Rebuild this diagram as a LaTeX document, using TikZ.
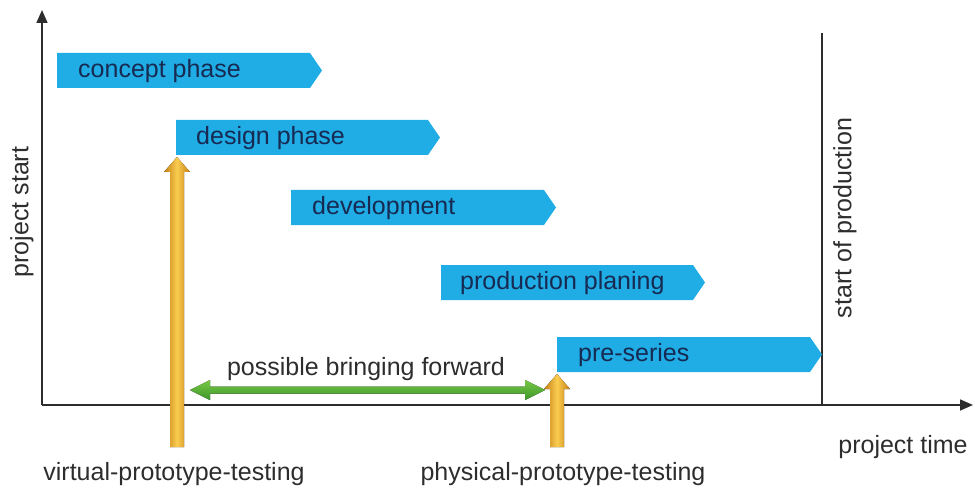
\documentclass[tikz,border=0pt]{standalone}
\usepackage{fontspec}
\setmainfont{Liberation Sans}
\usetikzlibrary{arrows.meta}
\definecolor{barblue}{RGB}{32,172,228}
\definecolor{bartxt}{RGB}{22,42,82}
\definecolor{axisgray}{RGB}{45,45,45}
\definecolor{goldA}{RGB}{196,128,20}
\definecolor{goldB}{RGB}{250,205,80}
\definecolor{greenA}{RGB}{120,200,70}
\definecolor{greenB}{RGB}{60,150,40}
\tikzset{
  bartext/.style={anchor=west, text=bartxt, font=\fontsize{25}{29}\selectfont, inner sep=0pt},
  lbl/.style={text=axisgray, font=\fontsize{25}{29}\selectfont, inner sep=0pt},
  axisline/.style={draw=axisgray, line width=1.6pt},
  goldfill/.style={left color=goldA, right color=goldA, middle color=goldB},
  greenfill/.style={top color=greenA, bottom color=greenB}
}
\newcommand{\phasebar}[4]{% x1, ytop, x2tip, name
  \fill[barblue] (#1,#2) -- (#3-12,#2) -- (#3,#2+17.5) -- (#3-12,#2+35) -- (#1,#2+35) -- cycle;
  \coordinate (#4) at (#1,#2+18.5);
}
\begin{document}
\begin{tikzpicture}[x=1pt,y=-1pt]
\useasboundingbox (0,0) rectangle (975,492);
% axes
\coordinate (O) at (42,405);
\coordinate (ytop) at (42,10);
\coordinate (xend) at (973,405);
\draw[axisline, -{Triangle[length=13pt,width=11pt]}] (O) -- (ytop);
\draw[axisline, -{Triangle[length=13pt,width=11pt]}] (O) -- (xend);
\coordinate (sopTop) at (822,33);
\coordinate (sopBot) at (822,405);
\draw[axisline] (sopTop) -- (sopBot);
% phase bars
\phasebar{57}{53}{322}{cp}
\phasebar{176}{120}{440}{dp}
\phasebar{291}{190}{556}{dv}
\phasebar{441}{265}{705}{pp}
\phasebar{557}{337}{822}{ps}
\node[bartext] (cpt) at ([xshift=21pt]cp) {concept phase};
\node[bartext] (dpt) at ([xshift=20pt]dp) {design phase};
\node[bartext] (dvt) at ([xshift=21pt]dv) {development};
\node[bartext] (ppt) at ([xshift=19pt]pp) {production planing};
\node[bartext] (pst) at ([xshift=21pt]ps) {pre-series};
% yellow arrows
\fill[goldfill] (170,447) -- (170,172) -- (164,172) -- (177,157) -- (190,172) -- (184,172) -- (184,447) -- cycle;
\fill[goldfill] (550,447) -- (550,389) -- (544,389) -- (557,374) -- (570,389) -- (564,389) -- (564,447) -- cycle;
\coordinate (va) at (177,157);
\coordinate (pa) at (557,374);
% green double arrow
\fill[greenfill] (190,390) -- (210,380) -- (210,386.5) -- (525,386.5) -- (525,380) -- (545,390) -- (525,400) -- (525,393.5) -- (210,393.5) -- (210,400) -- cycle;
\node[lbl] (pbf) at (366,369) {possible bringing forward};
% labels
\node[lbl, rotate=90] (pstart) at (22,212) {project start};
\node[lbl, rotate=90] (sop) at (845,218) {start of production};
\node[lbl] (ptime) at (903,447) {project time};
\node[lbl] (vpt) at (174,474) {virtual-prototype-testing};
\node[lbl] (ppt2) at (563,474) {physical-prototype-testing};
\end{tikzpicture}
\end{document}
